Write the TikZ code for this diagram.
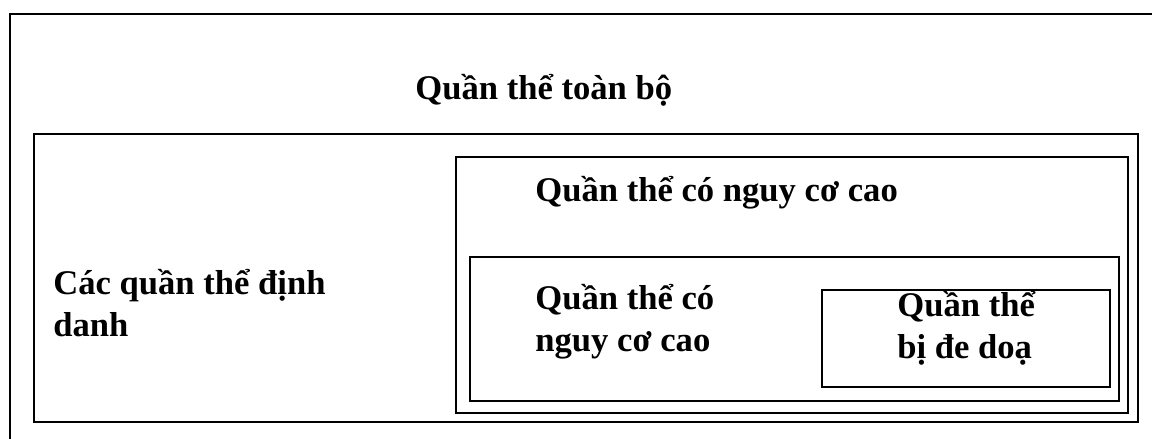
\documentclass[tikz,border=0pt]{standalone}
\usepackage{fontspec}
\setmainfont{Liberation Serif}
\usepackage{tikz}
\usetikzlibrary{positioning}

\tikzset{
  box/.style={draw, line width=0.9pt},
  lbl/.style={font=\bfseries\fontsize{19.7}{24}\selectfont, align=left, inner sep=0pt, anchor=base west}
}

\begin{document}
\begin{tikzpicture}
  \useasboundingbox (0,0) rectangle (23.04,8.78);
  \clip (0,0) rectangle (23.04,8.78);
  % Nested population boxes (outermost one runs off the page)
  \draw[box] (0.2,-0.5) rectangle (23.5,8.5);
  \draw[box] (0.68,0.34) rectangle (22.76,6.1);
  \draw[box] (9.12,0.52) rectangle (22.56,5.64);
  \draw[box] (9.4,0.76) rectangle (22.38,3.64);
  \draw[box] (16.44,1.04) rectangle (22.2,2.98);
  % Labels (multi-line ones sit on their last baseline)
  \node[lbl] (whole) at (8.3,6.78) {Quần thể toàn bộ};
  \node[lbl] (highrisk) at (10.7,4.74) {Quần thể có nguy cơ cao};
  \node[lbl] (named) at (1.06,2.04) {Các quần thể định\\danh};
  \node[lbl] (highriskin) at (10.7,1.74) {Quần thể có\\nguy cơ cao};
  \node[lbl] (threat) at (17.94,1.6) {Quần thể\\bị đe doạ};
\end{tikzpicture}
\end{document}
